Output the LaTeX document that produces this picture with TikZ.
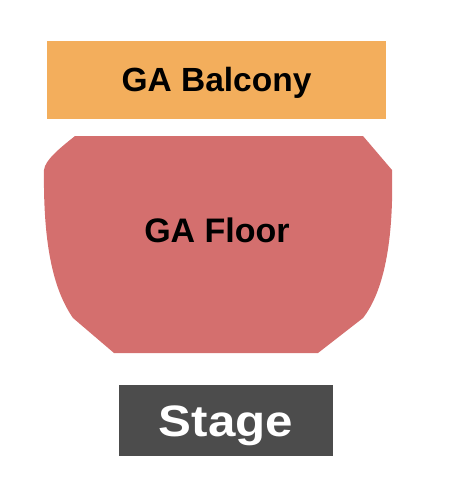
\documentclass[tikz,border=0pt]{standalone}
\usepackage{fontspec}
\setmainfont{Liberation Sans}
\newfontfamily\stagefont[FakeStretch=1.12]{Liberation Sans}
\definecolor{BalconyOrange}{RGB}{243,174,92}
\definecolor{FloorRed}     {RGB}{212,111,110}
\definecolor{StageGray}    {RGB}{76,  76,  76}
\begin{document}
\begin{tikzpicture}[
  x=1pt, y=-1pt,
  section/.style={
    inner sep=0pt, align=center,
    text depth=0pt
  },
  balcony/.style={section,
    fill=BalconyOrange,
    minimum width=339pt, minimum height=78pt,
    text height=24pt,
    font=\bfseries\fontsize{33.5}{36}\selectfont},
  floorlabel/.style={section,
    text height=24pt,
    font=\bfseries\fontsize{34}{36}\selectfont},
  stagebox/.style={section,
    fill=StageGray, text=white,
    minimum width=214pt, minimum height=71pt,
    text height=31pt,
    font=\stagefont\bfseries\fontsize{44}{46}\selectfont}
]

\useasboundingbox (0,0) rectangle (450,500);

\node[balcony] (balcony) at (216.5,80)
  {GA Balcony};

\fill[FloorRed] (75,136) -- (363,136)
  -- (392,170)
  .. controls (394,250) and (381,295) .. (363,318)
  -- (318,353) -- (114,353) -- (73,318)
  .. controls (55,292) and (43,250) .. (44,170)
  .. controls (45,160) and (60,148) .. cycle;
\node[floorlabel] (floor) at (217,230)
  {GA Floor};

\node[stagebox] (stage) at (226,420.5)
  {Stage};

\end{tikzpicture}
\end{document}
